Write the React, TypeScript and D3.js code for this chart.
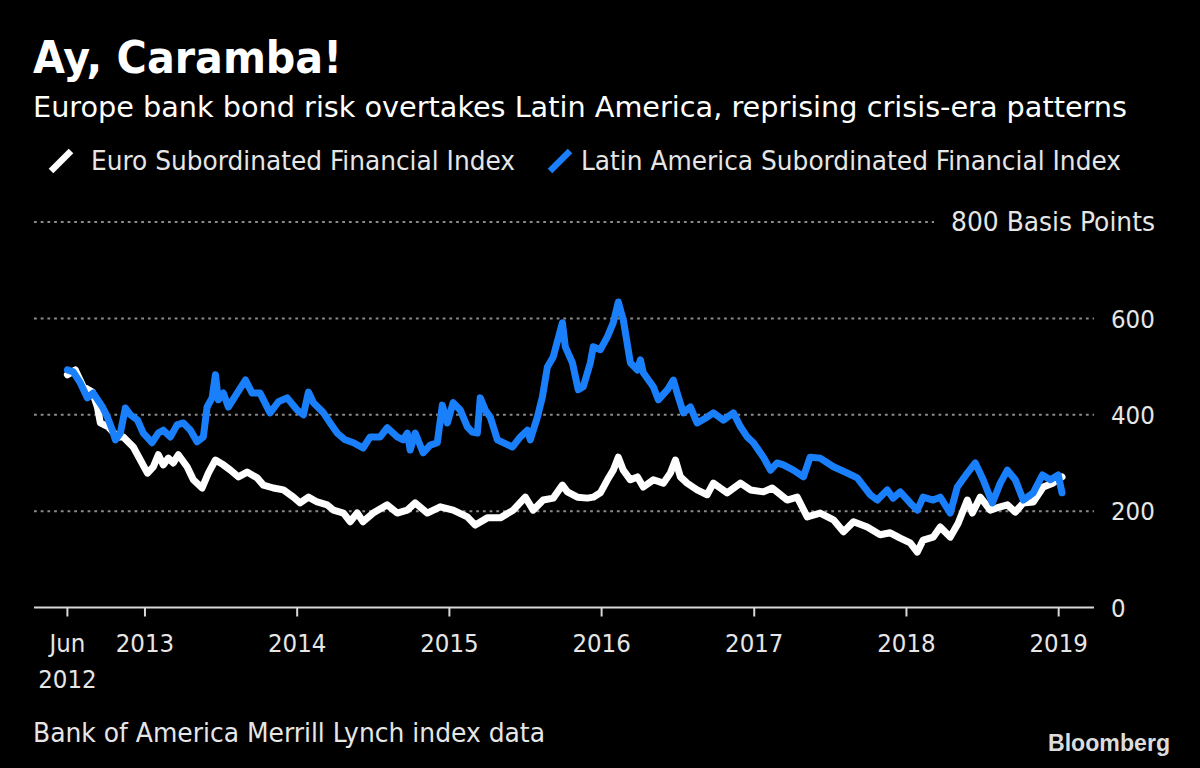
import React from "react";
import * as d3 from "d3";

// Euro subordinated financial index, option-adjusted spread in basis points
const euroSeries: [string, number][] = [
  ["2012-06-29", 483], ["2012-07-18", 493], ["2012-08-06", 458], ["2012-08-28", 447],
  ["2012-09-09", 416], ["2012-09-16", 383], ["2012-10-05", 375], ["2012-10-27", 354],
  ["2012-11-10", 354], ["2012-12-04", 333], ["2012-12-21", 306], ["2013-01-07", 279],
  ["2013-01-21", 292], ["2013-02-02", 317], ["2013-02-14", 296], ["2013-02-26", 310],
  ["2013-03-10", 300], ["2013-03-22", 317], ["2013-04-12", 292], ["2013-04-27", 265],
  ["2013-05-18", 248], ["2013-06-02", 279], ["2013-06-19", 306], ["2013-07-08", 296],
  ["2013-07-25", 285], ["2013-08-13", 271], ["2013-09-03", 281], ["2013-09-27", 269],
  ["2013-10-12", 254], ["2013-11-05", 248], ["2013-11-29", 244], ["2013-12-23", 229],
  ["2014-01-08", 217], ["2014-01-28", 229], ["2014-02-18", 219], ["2014-03-14", 213],
  ["2014-03-29", 202], ["2014-04-22", 196], ["2014-05-08", 178], ["2014-05-25", 196],
  ["2014-06-08", 178], ["2014-07-02", 196], ["2014-08-05", 213], ["2014-08-29", 196],
  ["2014-09-22", 202], ["2014-10-11", 217], ["2014-11-09", 196], ["2014-12-10", 209],
  ["2015-01-10", 202], ["2015-02-13", 188], ["2015-03-04", 171], ["2015-04-02", 186],
  ["2015-05-03", 186], ["2015-06-03", 202], ["2015-07-02", 229], ["2015-07-21", 202],
  ["2015-08-14", 223], ["2015-09-07", 227], ["2015-09-29", 254], ["2015-10-11", 240],
  ["2015-11-04", 229], ["2015-11-28", 227], ["2015-12-12", 229], ["2015-12-29", 238],
  ["2016-01-15", 265], ["2016-01-29", 285], ["2016-02-10", 312], ["2016-02-22", 285],
  ["2016-03-10", 265], ["2016-03-27", 271], ["2016-04-10", 250], ["2016-05-04", 265],
  ["2016-05-28", 258], ["2016-06-14", 279], ["2016-06-26", 306], ["2016-07-08", 271],
  ["2016-07-24", 258], ["2016-08-17", 244], ["2016-09-10", 234], ["2016-09-25", 258],
  ["2016-10-28", 238], ["2016-11-29", 258], ["2016-12-23", 244], ["2017-01-23", 240],
  ["2017-02-13", 248], ["2017-03-21", 223], ["2017-04-14", 229], ["2017-05-08", 188],
  ["2017-06-08", 196], ["2017-07-10", 182], ["2017-08-03", 157], ["2017-08-27", 178],
  ["2017-09-29", 167], ["2017-10-30", 151], ["2017-11-23", 155], ["2017-12-17", 144],
  ["2018-01-10", 134], ["2018-01-27", 115], ["2018-02-10", 140], ["2018-03-06", 146],
  ["2018-03-23", 167], ["2018-04-16", 146], ["2018-05-05", 175], ["2018-05-27", 223],
  ["2018-06-08", 196], ["2018-06-27", 229], ["2018-07-21", 202], ["2018-08-14", 209],
  ["2018-08-31", 213], ["2018-09-19", 198], ["2018-10-08", 217], ["2018-11-01", 219],
  ["2018-11-25", 250], ["2018-12-18", 258], ["2019-01-09", 271],
];

// Latin America subordinated financial index, basis points
const latamSeries: [string, number][] = [
  ["2012-06-29", 493], ["2012-07-13", 489], ["2012-07-30", 466], ["2012-08-16", 435],
  ["2012-08-30", 445], ["2012-09-21", 416], ["2012-10-03", 395], ["2012-10-15", 368],
  ["2012-10-22", 348], ["2012-11-03", 362], ["2012-11-15", 414], ["2012-11-27", 400],
  ["2012-12-14", 389], ["2012-12-28", 362], ["2013-01-18", 342], ["2013-02-02", 362],
  ["2013-02-14", 368], ["2013-03-03", 354], ["2013-03-19", 379], ["2013-04-03", 383],
  ["2013-04-20", 368], ["2013-05-06", 344], ["2013-05-21", 354], ["2013-05-30", 416],
  ["2013-06-11", 435], ["2013-06-19", 483], ["2013-06-26", 431], ["2013-07-08", 445],
  ["2013-07-20", 416], ["2013-08-10", 445], ["2013-08-30", 472], ["2013-09-15", 445],
  ["2013-10-04", 445], ["2013-10-28", 404], ["2013-11-17", 427], ["2013-12-08", 435],
  ["2014-01-01", 410], ["2014-01-16", 400], ["2014-01-28", 447], ["2014-02-09", 425],
  ["2014-03-05", 404], ["2014-03-21", 383], ["2014-04-07", 362], ["2014-04-26", 348],
  ["2014-05-16", 342], ["2014-06-08", 331], ["2014-06-25", 354], ["2014-07-19", 354],
  ["2014-08-05", 373], ["2014-08-29", 354], ["2014-09-12", 348], ["2014-09-22", 362],
  ["2014-09-29", 327], ["2014-10-11", 362], ["2014-10-30", 321], ["2014-11-16", 337],
  ["2014-12-03", 342], ["2014-12-15", 420], ["2014-12-27", 383], ["2015-01-10", 425],
  ["2015-01-27", 410], ["2015-02-13", 375], ["2015-02-25", 364], ["2015-03-09", 362],
  ["2015-03-16", 435], ["2015-03-28", 410], ["2015-04-09", 395], ["2015-04-26", 348],
  ["2015-05-10", 342], ["2015-06-01", 333], ["2015-06-20", 354], ["2015-07-07", 368],
  ["2015-07-14", 348], ["2015-07-31", 395], ["2015-08-12", 437], ["2015-08-24", 499],
  ["2015-09-07", 520], ["2015-09-29", 591], ["2015-10-06", 541], ["2015-10-23", 508],
  ["2015-11-06", 452], ["2015-11-18", 458], ["2015-12-05", 508], ["2015-12-12", 541],
  ["2015-12-29", 535], ["2016-01-15", 562], ["2016-01-29", 591], ["2016-02-10", 634],
  ["2016-02-22", 597], ["2016-03-10", 508], ["2016-03-27", 493], ["2016-04-03", 514],
  ["2016-04-10", 487], ["2016-05-04", 458], ["2016-05-16", 431], ["2016-06-07", 452],
  ["2016-06-21", 472], ["2016-07-03", 437], ["2016-07-15", 404], ["2016-08-01", 416],
  ["2016-08-17", 383], ["2016-09-10", 395], ["2016-09-25", 404], ["2016-10-19", 389],
  ["2016-11-12", 404], ["2016-11-29", 375], ["2016-12-15", 354], ["2016-12-30", 342],
  ["2017-01-23", 312], ["2017-02-09", 285], ["2017-02-25", 300], ["2017-03-12", 296],
  ["2017-04-05", 285], ["2017-04-29", 271], ["2017-05-15", 312], ["2017-06-08", 310],
  ["2017-07-10", 292], ["2017-08-12", 279], ["2017-09-05", 269], ["2017-10-06", 234],
  ["2017-10-23", 223], ["2017-11-16", 244], ["2017-11-30", 227], ["2017-12-17", 240],
  ["2018-01-10", 217], ["2018-01-27", 202], ["2018-02-10", 229], ["2018-03-06", 223],
  ["2018-03-23", 229], ["2018-04-16", 196], ["2018-05-03", 250], ["2018-05-27", 279],
  ["2018-06-15", 300], ["2018-07-04", 265], ["2018-07-26", 217], ["2018-08-14", 258],
  ["2018-08-31", 285], ["2018-09-19", 265], ["2018-10-08", 223], ["2018-11-01", 238],
  ["2018-11-23", 275], ["2018-12-12", 265], ["2018-12-31", 275], ["2019-01-09", 238],
];

const yTicks = [0, 200, 400, 600, 800];
const xTicks: { date: string; lines: string[] }[] = [
  { date: "2012-06-29", lines: ["Jun", "2012"] },
  { date: "2013-01-01", lines: ["2013"] },
  { date: "2014-01-01", lines: ["2014"] },
  { date: "2015-01-01", lines: ["2015"] },
  { date: "2016-01-01", lines: ["2016"] },
  { date: "2017-01-01", lines: ["2017"] },
  { date: "2018-01-01", lines: ["2018"] },
  { date: "2019-01-01", lines: ["2019"] },
];

const TITLE = "Ay, Caramba!";
const SUBTITLE = "Europe bank bond risk overtakes Latin America, reprising crisis-era patterns";
const LEGEND = ["Euro Subordinated Financial Index", "Latin America Subordinated Financial Index"];
const SOURCE = "Bank of America Merrill Lynch index data";
const UNIT = "Basis Points";

const WHITE = "#ffffff";
const BLUE = "#1a7ffb";
const TEXT = "#e6e6e6";
const FONT = "'DejaVu Sans Condensed', 'DejaVu Sans', sans-serif";

const parse = d3.timeParse("%Y-%m-%d");

export default function App() {
  const W = 1200;
  const H = 768;
  const plotLeft = 34;
  const plotRight = 1094;

  const euro = euroSeries.map(([d, v]) => ({ date: parse(d)!, value: v }));
  const latam = latamSeries.map(([d, v]) => ({ date: parse(d)!, value: v }));

  const x = d3
    .scaleTime()
    .domain([parse("2012-06-29")!, parse("2019-01-09")!])
    .range([67.4, 1062]);
  const y = d3.scaleLinear().domain([0, 800]).range([607.5, 222]);

  const line = d3
    .line<{ date: Date; value: number }>()
    .x((d) => x(d.date))
    .y((d) => y(d.value))
    .curve(d3.curveLinear);

  return (
    <div style={{ position: "fixed", left: 0, top: 0, width: W, height: H, background: "#000" }}>
      <svg width={W} height={H} style={{ display: "block", fontFamily: FONT }}>
        <rect width={W} height={H} fill="#000" />

        <text x={33} y={73} fill={WHITE} fontSize={44} fontWeight="bold" textLength={309} lengthAdjust="spacingAndGlyphs">
          {TITLE}
        </text>
        <text x={33} y={117} fill={WHITE} fontSize={29} textLength={1094} lengthAdjust="spacingAndGlyphs">
          {SUBTITLE}
        </text>

        {/* legend */}
        <line x1={51} y1={171} x2={71} y2={151} stroke={WHITE} strokeWidth={6.5} />
        <text x={91} y={170} fill={TEXT} fontSize={26} textLength={424} lengthAdjust="spacingAndGlyphs">
          {LEGEND[0]}
        </text>
        <line x1={550} y1={171} x2={570} y2={151} stroke={BLUE} strokeWidth={6.5} />
        <text x={581} y={170} fill={TEXT} fontSize={26} textLength={540} lengthAdjust="spacingAndGlyphs">
          {LEGEND[1]}
        </text>

        {/* gridlines */}
        {yTicks.filter((t) => t > 0).map((t) => (
          <line
            key={t}
            x1={plotLeft}
            x2={t === 800 ? 934 : plotRight}
            y1={y(t)}
            y2={y(t)}
            stroke="#8a8a8a"
            strokeWidth={2}
            strokeDasharray="2.8 3.9"
          />
        ))}
        {yTicks.map((t) =>
          t === 800 ? (
            <text
              key={t}
              x={951}
              y={y(t)}
              dy="0.36em"
              fill={TEXT}
              fontSize={26}
              textLength={204}
              lengthAdjust="spacingAndGlyphs"
            >
              {`${t} ${UNIT}`}
            </text>
          ) : (
            <text key={t} x={1111} y={y(t)} dy="0.36em" fill={TEXT} fontSize={25.5}>
              {t}
            </text>
          )
        )}

        {/* x axis */}
        <line x1={plotLeft} x2={plotRight} y1={y(0)} y2={y(0)} stroke="#d8d8d8" strokeWidth={2} />
        {xTicks.map((t) => {
          const px = x(parse(t.date)!);
          return (
            <g key={t.date}>
              <line x1={px} x2={px} y1={y(0)} y2={y(0) + 9} stroke="#d8d8d8" strokeWidth={2} />
              {t.lines.map((l, i) => (
                <text key={l} x={px} y={652 + i * 36} fill={TEXT} fontSize={25.5} textAnchor="middle">
                  {l}
                </text>
              ))}
            </g>
          );
        })}

        {/* series */}
        <path d={line(euro) ?? ""} fill="none" stroke={WHITE} strokeWidth={7} strokeLinejoin="round" strokeLinecap="round" />
        <path d={line(latam) ?? ""} fill="none" stroke={BLUE} strokeWidth={7} strokeLinejoin="round" strokeLinecap="round" />

        <text x={33} y={742} fill={TEXT} fontSize={26} textLength={512} lengthAdjust="spacingAndGlyphs">
          {SOURCE}
        </text>
        <text
          x={1048}
          y={751}
          fill="#dcdcdc"
          fontSize={23}
          fontWeight="bold"
          fontFamily="'Liberation Sans', Arial, sans-serif"
          textLength={122}
          lengthAdjust="spacingAndGlyphs"
        >
          Bloomberg
        </text>
      </svg>
    </div>
  );
}
